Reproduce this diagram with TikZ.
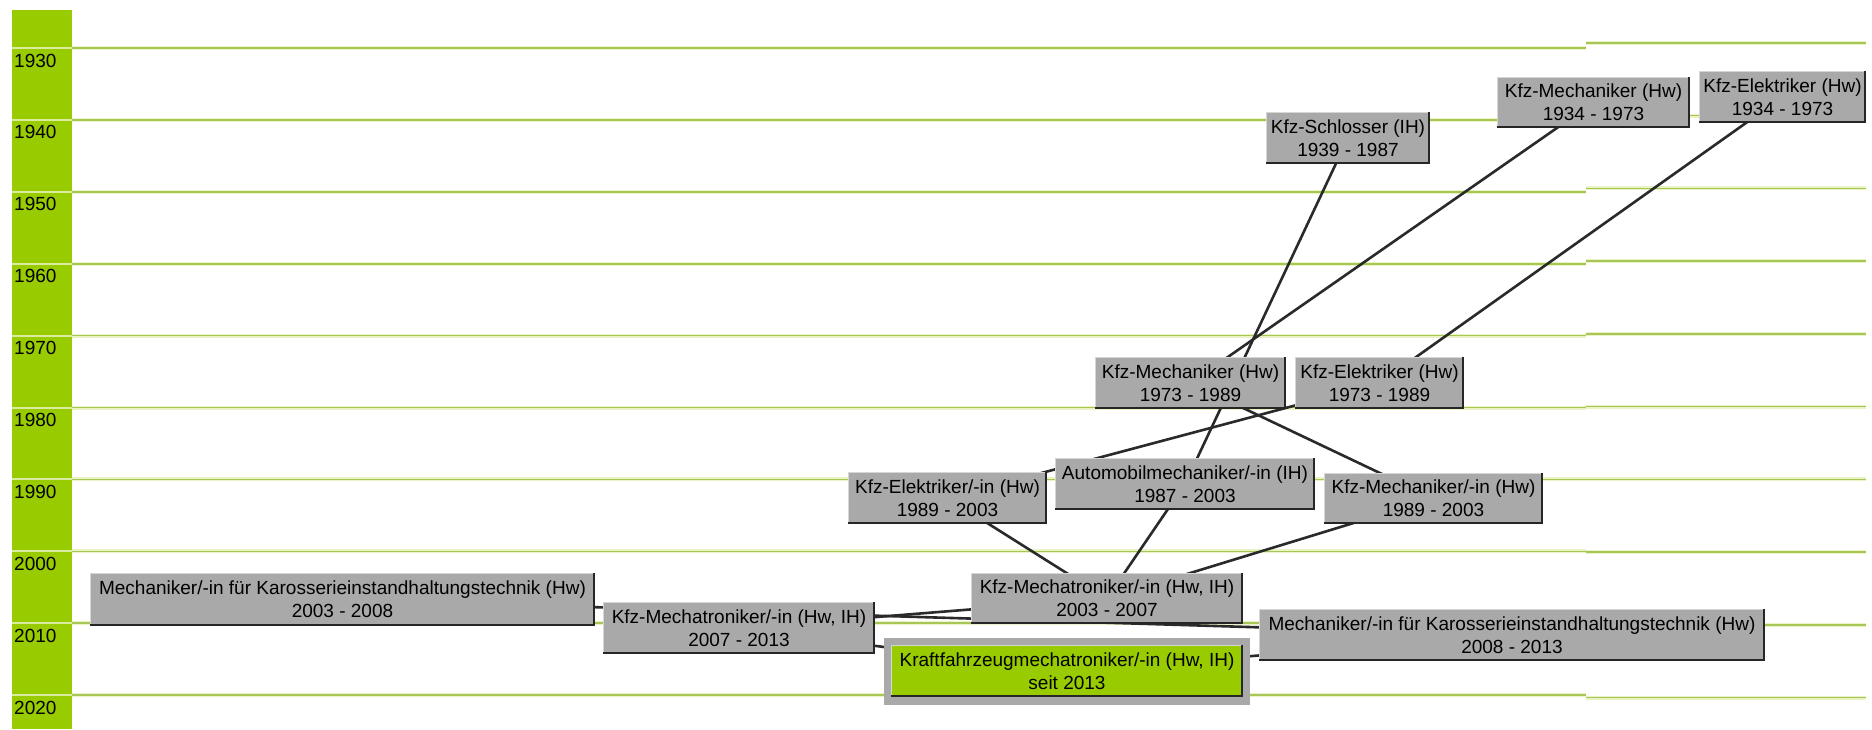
\documentclass[tikz,border=0pt]{standalone}
\usepackage{fontspec}
\setmainfont{Liberation Sans}
\pgfdeclarelayer{paper}
\pgfdeclarelayer{bg}
\pgfdeclarelayer{frame}
\pgfsetlayers{paper,bg,frame,main}
\definecolor{colgreen}{HTML}{99CC00}
\definecolor{boxgray}{HTML}{A9A9A9}
\definecolor{edgedark}{HTML}{262626}
\definecolor{edgelight}{HTML}{D6D6D6}
\definecolor{linkc}{HTML}{2A2A2A}
\definecolor{gridc}{HTML}{A8C656}
\definecolor{gridhalo}{HTML}{EAF3C4}
\definecolor{colsep}{HTML}{D9ECA0}
\tikzset{
  cbox/.style={fill=boxgray, inner sep=0pt, align=center, font=\fontsize{19}{23}\selectfont, text=black},
  edgeD/.style={draw=edgedark, line width=2pt},
  edgeL/.style={draw=edgelight, line width=1pt},
  link/.style={draw=linkc, line width=2.6pt},
  gridline/.style={draw=gridc, line width=1.6pt},
  gridglow/.style={draw=gridhalo, line width=4pt},
  colline/.style={draw=colsep, line width=2pt},
  yearlbl/.style={font=\fontsize{19}{23}\selectfont, inner sep=0pt, anchor=base west, text=black},
}
\newcommand\cbox[8][boxgray]{%
  \node[cbox, fill=#1, minimum width={#5pt-#3pt}, minimum height={#6pt-#4pt}] (#2) at ({(#3+#5)/2},{(#4+#6)/2}) {#7\\#8};
  \draw[edgeL] ([xshift=0.5pt]#2.south west) -- ([xshift=0.5pt,yshift=-0.5pt]#2.north west) -- ([yshift=-0.5pt]#2.north east);
  \draw[edgeD] ([xshift=-1pt]#2.north east) -- ([xshift=-1pt,yshift=1pt]#2.south east) -- ([yshift=1pt]#2.south west);
}
\begin{document}
\begin{tikzpicture}[x=1pt,y=-1pt]
\begin{pgfonlayer}{paper}
\fill[white] (0,0) rectangle (1872,729);
\end{pgfonlayer}
\useasboundingbox (0,0) rectangle (1872,729);
% year column
\fill[colgreen] (12,10) rectangle (72,729);
\begin{pgfonlayer}{bg}
\foreach \k in {0,...,9} {
  \pgfmathsetmacro\yl{48+71.9*\k}
  \pgfmathsetmacro\yr{480+(\yl-480)*1.012}
  \draw[gridglow] (72,\yl) -- (1586,\yl);
  \draw[gridglow] (1586,\yr) -- (1866,\yr);
  \draw[gridline] (72,\yl) -- (1586,\yl);
  \draw[gridline] (1586,\yr) -- (1866,\yr);
}
\end{pgfonlayer}
\foreach \k in {0,...,9} {
  \pgfmathsetmacro\yl{48+71.9*\k}
  \pgfmathtruncatemacro\yy{1930+10*\k}
  \draw[colline] (12,\yl) -- (72,\yl);
  \node[yearlbl] (yr\k) at (14,\yl+19) {\yy};
}
% boxes
\cbox{schlosser}{1266}{112}{1430}{164}{Kfz-Schlosser (IH)}{1939 - 1987}
\cbox{mechA}{1497}{77}{1690}{128}{Kfz-Mechaniker (Hw)}{1934 - 1973}
\cbox{elekA}{1699}{71}{1866}{123}{Kfz-Elektriker (Hw)}{1934 - 1973}
\cbox{mechB}{1095}{357}{1286}{409}{Kfz-Mechaniker (Hw)}{1973 - 1989}
\cbox{elekB}{1295}{357}{1464}{409}{Kfz-Elektriker (Hw)}{1973 - 1989}
\cbox{auto}{1055}{458}{1315}{510}{Automobilmechaniker/-in (IH)}{1987 - 2003}
\cbox{elekC}{848}{472}{1047}{524}{Kfz-Elektriker/-in (Hw)}{1989 - 2003}
\cbox{mechC}{1324}{473}{1543}{524}{Kfz-Mechaniker/-in (Hw)}{1989 - 2003}
\cbox{tronA}{971}{573}{1243}{624}{Kfz-Mechatroniker/-in (Hw, IH)}{2003 - 2007}
\cbox{karoA}{90}{573}{595}{626}{Mechaniker/-in für Karosserieinstandhaltungstechnik (Hw)}{2003 - 2008}
\cbox{tronB}{603}{602}{875}{654}{Kfz-Mechatroniker/-in (Hw, IH)}{2007 - 2013}
\cbox[colgreen]{kfz}{891}{645}{1243}{697}{Kraftfahrzeugmechatroniker/-in (Hw, IH)}{seit 2013}
\cbox{karoB}{1259}{609}{1765}{661}{Mechaniker/-in für Karosserieinstandhaltungstechnik (Hw)}{2008 - 2013}
\begin{pgfonlayer}{frame}
\fill[boxgray] ([xshift=-7pt,yshift=7pt]kfz.north west) rectangle ([xshift=7pt,yshift=-8pt]kfz.south east);
\end{pgfonlayer}
% connectors
\begin{pgfonlayer}{bg}
\draw[link] (schlosser.center) -- (auto.center);
\draw[link] (mechA.center) -- (mechB.center);
\draw[link] (elekA.center) -- (elekB.center);
\draw[link] (mechB.center) -- (mechC.center);
\draw[link] (elekB.center) -- (elekC.center);
\draw[link] (elekC.center) -- (tronA.center);
\draw[link] (auto.center) -- (tronA.center);
\draw[link] (mechC.center) -- (tronA.center);
\draw[link] (tronA.center) -- (tronB.center);
\draw[link] (karoA.center) -- (karoB.center);
\draw[link] (tronB.center) -- (kfz.center);
\draw[link] (karoB.center) -- (kfz.center);
\end{pgfonlayer}
\end{tikzpicture}
\end{document}
